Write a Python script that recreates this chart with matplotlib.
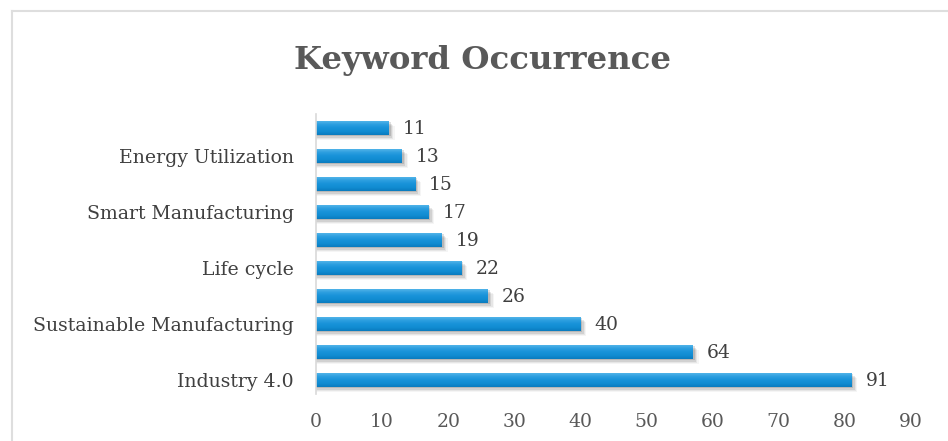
import matplotlib
matplotlib.use("Agg")
import matplotlib.pyplot as plt
import numpy as np
from matplotlib.colors import LinearSegmentedColormap

# data (bottom to top)
tick_labels = ["Industry 4.0", "", "Sustainable Manufacturing", "", "Life cycle", "",
               "Smart Manufacturing", "", "Energy Utilization", ""]
bar_lengths = [81, 57, 40, 26, 22, 19, 17, 15, 13, 11]
data_labels = ["91", "64", "40", "26", "22", "19", "17", "15", "13", "11"]
x_ticks = [0, 10, 20, 30, 40, 50, 60, 70, 80, 90]

FONT = ["DejaVu Serif"]
W, H = 948, 441
fig = plt.figure(figsize=(W / 100, H / 100), dpi=100)
fig.patch.set_facecolor("white")

# chart border lines (top and left)
fig.add_artist(plt.Line2D([12 / W, 1], [1 - 11 / H, 1 - 11 / H], color="#dedede", lw=1.5))
fig.add_artist(plt.Line2D([12 / W, 12 / W], [0, 1 - 11 / H], color="#dedede", lw=1.5))

ax_l, ax_r, ax_t, ax_b = 316, 911, 114, 394
ax = fig.add_axes([ax_l / W, 1 - ax_b / H, (ax_r - ax_l) / W, (ax_b - ax_t) / H])

y = np.arange(len(bar_lengths))
h = 0.5
# soft shadows
for k, a in zip(range(4), [0.12, 0.09, 0.06, 0.04]):
    off = 0.05 + k * 0.04
    ax.barh(y - off, [b + 0.3 + k * 0.2 for b in bar_lengths], height=h,
            color="#000000", alpha=a, zorder=1, linewidth=0)
# gradient bars
cmap = LinearSegmentedColormap.from_list("b", ["#0a7cbf", "#118cd2", "#1792d8", "#2a9ddf", "#4fb2e8"])
for yi, b in zip(y, bar_lengths):
    ax.imshow(np.linspace(0, 1, 32).reshape(-1, 1), cmap=cmap, aspect="auto",
              extent=[0, b, yi - h / 2, yi + h / 2], origin="lower", zorder=2,
              interpolation="bilinear")
ax.set_xlim(0, 90)
ax.set_ylim(-0.5, len(bar_lengths) - 0.5)

for yi, b, lab in zip(y, bar_lengths, data_labels):
    ax.annotate(lab, (b, yi), xytext=(14, -1), textcoords="offset pixels",
                va="center", ha="left", fontsize=13.5, color="#404040", family=FONT)

ax.set_yticks(y)
ax.set_yticklabels(tick_labels, family=FONT, fontsize=13.6, color="#404040")
ax.set_xticks(x_ticks)
ax.set_xticklabels([str(t) for t in x_ticks], family=FONT, fontsize=13.5, color="#595959")
ax.tick_params(axis="both", length=0)
ax.tick_params(axis="y", pad=16)
ax.tick_params(axis="x", pad=14)
for s in ["top", "right", "bottom"]:
    ax.spines[s].set_visible(False)
ax.spines["left"].set_color("#d9d9d9")
ax.spines["left"].set_linewidth(1.2)

fig.text(482 / W, 1 - 60 / H, "Keyword Occurrence", ha="center", va="center",
         fontsize=23.3, fontweight="bold", color="#595959", family=FONT)

fig.savefig("out.png", dpi=100)
